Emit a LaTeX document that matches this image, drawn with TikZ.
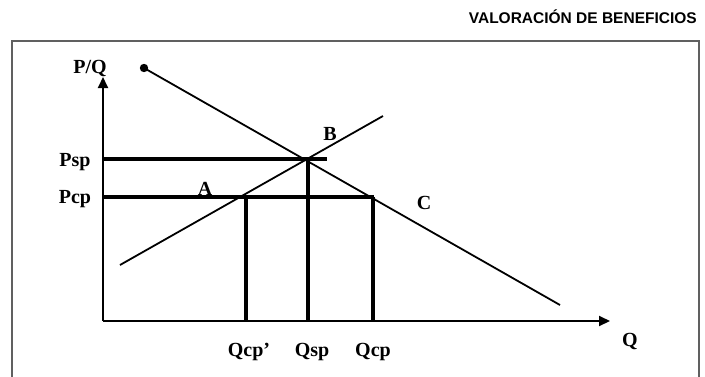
\documentclass[tikz,border=0pt]{standalone}
\usepackage{fontspec}
\setmainfont{Liberation Serif}
\newfontfamily\titlefont{Liberation Sans}
\usetikzlibrary{arrows.meta}
\begin{document}
\begin{tikzpicture}[x=1pt,y=-1pt,
  lbl/.style={font=\bfseries\fontsize{20}{22}\selectfont, inner sep=0pt},
  axisline/.style={line width=2pt, -{Triangle[length=11pt,width=10pt]}},
  curve/.style={line width=1.8pt},
  guide/.style={line width=3.2pt}]
\useasboundingbox (0,0) rectangle (705,376);
\draw[line width=1.5pt, gray!75!black] (12,380) -- (12,41) -- (699,41) -- (699,380);
\node[anchor=east, inner sep=0pt, font=\titlefont\bfseries\fontsize{15.5}{17}\selectfont] (title) at (697,17) {VALORACIÓN DE BENEFICIOS};
% axes
\coordinate (O) at (103,321);
\coordinate (ytop) at (103,77);
\coordinate (xend) at (610,321);
\draw[axisline] (O) -- (ytop);
\draw[axisline] (O) -- (xend);
% demand
\coordinate (d1) at (144,68);
\coordinate (d2) at (560,305);
\fill (d1) circle (4.2pt);
\draw[curve] (d1) -- (d2);
% supply
\coordinate (s1) at (120,265);
\coordinate (s2) at (383,116);
\draw[curve] (s1) -- (s2);
% guides
\coordinate (psp0) at (103,159);
\coordinate (psp1) at (327,159);
\coordinate (pcp0) at (103,197);
\coordinate (pcp1) at (374,197);
\draw[guide] (psp0) -- (psp1);
\draw[guide] (pcp0) -- (pcp1);
\coordinate (qa) at (246,197);
\coordinate (qa0) at (246,321);
\coordinate (qb) at (308,158);
\coordinate (qb0) at (308,321);
\coordinate (qc) at (373,197);
\coordinate (qc0) at (373,321);
\draw[guide] (qa) -- (qa0);
\draw[guide] (qb) -- (qb0);
\draw[guide] (qc) -- (qc0);
% labels
\node[lbl] (PQ) at (90,68) {P/Q};
\node[lbl] (Psp) at (75,162) {Psp};
\node[lbl] (Pcp) at (75,199) {Pcp};
\node[lbl] (A) at (205,189) {A};
\node[lbl] (B) at (330,134) {B};
\node[lbl] (C) at (424,203) {C};
\node[lbl] (Qcpp) at (249,352) {Qcp’};
\node[lbl] (Qsp) at (312,352) {Qsp};
\node[lbl] (Qcp) at (373,352) {Qcp};
\node[lbl] (Q) at (630,341) {Q};
\end{tikzpicture}
\end{document}
